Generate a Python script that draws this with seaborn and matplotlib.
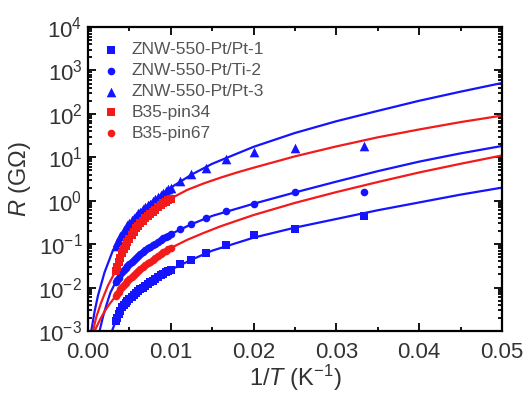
import numpy as np
import pandas as pd
import seaborn as sns
import matplotlib.pyplot as plt
from matplotlib.ticker import LogLocator, NullFormatter, MultipleLocator

# temperatures of the measured points (K); x axis is 1/T
temp_dense = [300, 285, 270, 255, 240, 230, 220, 210, 200, 190, 180, 172, 165,
              158, 151, 145, 139, 133, 128, 123, 118, 114, 110, 106, 103, 100]
temp_low = [90, 80, 70, 60, 50, 40, 30]

# measured R (GOhm)
r_pt1 = [0.0017, 0.0020, 0.0024, 0.0029, 0.0035, 0.0039, 0.0044, 0.0049, 0.0055,
         0.0062, 0.0069, 0.0076, 0.0083, 0.0091, 0.010, 0.011, 0.012, 0.0132,
         0.0145, 0.0158, 0.0174, 0.019, 0.0204, 0.0224, 0.024, 0.0257]
r_pt1_low = [0.034, 0.044, 0.063, 0.095, 0.160, 0.224, 0.437]

r_ti2 = [0.0132, 0.0151, 0.0170, 0.020, 0.0229, 0.0251, 0.0275, 0.0309, 0.0347,
         0.0389, 0.0437, 0.049, 0.0537, 0.0589, 0.066, 0.0724, 0.0794, 0.0871,
         0.0933, 0.102, 0.115, 0.123, 0.135, 0.148, 0.158, 0.170]
r_ti2_low = [0.219, 0.295, 0.398, 0.575, 0.85, 1.55, 1.62]

r_pt3 = [0.089, 0.11, 0.12, 0.15, 0.17, 0.21, 0.23, 0.27, 0.30, 0.36, 0.40, 0.44,
         0.51, 0.55, 0.64, 0.70, 0.79, 0.86, 0.99, 1.08, 1.25, 1.33, 1.50, 1.63,
         1.85, 2.0]
r_pt3_low = [2.82, 4.07, 5.75, 8.91, 13.2, 16.6, 18.6]

r_pin34 = [0.024, 0.030, 0.038, 0.049, 0.063, 0.076, 0.091, 0.11, 0.13, 0.16,
           0.195, 0.23, 0.26, 0.30, 0.35, 0.39, 0.44, 0.49, 0.55, 0.62, 0.71,
           0.78, 0.87, 0.95, 1.05, 1.12]
r_pin67 = [0.0063, 0.0071, 0.0079, 0.0091, 0.0105, 0.0115, 0.0129, 0.0141, 0.0155,
           0.0174, 0.0195, 0.0214, 0.024, 0.0263, 0.0295, 0.0324, 0.0363, 0.0398,
           0.0437, 0.049, 0.0537, 0.0589, 0.0646, 0.0708, 0.0759, 0.0813]

# fitted curves (x = 1/T, R in GOhm)
fit_pt1_x = [0.0029, 0.00333, 0.004, 0.005, 0.006, 0.007, 0.008, 0.009, 0.01,
             0.0125, 0.015, 0.02, 0.025, 0.03, 0.035, 0.04, 0.045, 0.05]
fit_pt1_r = [0.001, 0.00166, 0.00302, 0.0055, 0.00813, 0.0112, 0.0155, 0.020,
             0.0257, 0.0437, 0.0708, 0.141, 0.24, 0.38, 0.603, 0.912, 1.38, 2.0]

fit_ti2_x = [0.0014, 0.0018, 0.0022, 0.0027, 0.00333, 0.004, 0.005, 0.006, 0.007,
             0.008, 0.009, 0.01, 0.0125, 0.015, 0.02, 0.025, 0.03, 0.035, 0.04,
             0.045, 0.05]
fit_ti2_r = [0.001, 0.00209, 0.0038, 0.0076, 0.0132, 0.0209, 0.0347, 0.0525,
             0.0741, 0.10, 0.132, 0.170, 0.288, 0.447, 0.851, 1.55, 2.75, 4.79,
             7.94, 12.3, 18.2]

fit_pt3_x = [0.0004, 0.0008, 0.0012, 0.002, 0.003, 0.004, 0.005, 0.0065, 0.008,
             0.01, 0.0125, 0.015, 0.02, 0.025, 0.03, 0.035, 0.04, 0.045, 0.05]
fit_pt3_r = [0.001, 0.00282, 0.00646, 0.0224, 0.0708, 0.158, 0.302, 0.617, 1.05,
             2.0, 3.98, 7.08, 17.4, 36.3, 67.6, 117, 200, 324, 513]

fit_pin34_x = [0.0006, 0.001, 0.0016, 0.0024, 0.00333, 0.004, 0.005, 0.006, 0.007,
               0.008, 0.009, 0.01, 0.012, 0.014, 0.016, 0.018, 0.02, 0.025, 0.03,
               0.035, 0.04, 0.045, 0.05]
fit_pin34_r = [0.001, 0.00209, 0.00457, 0.011, 0.024, 0.0537, 0.132, 0.251, 0.407,
               0.589, 0.832, 1.12, 1.78, 2.51, 3.39, 4.47, 5.75, 10.5, 17.8, 28.8,
               43.7, 64.6, 91.2]

fit_pin67_x = [0.0008, 0.0015, 0.002, 0.0026, 0.00333, 0.004, 0.005, 0.006, 0.007,
               0.008, 0.009, 0.01, 0.012, 0.014, 0.016, 0.018, 0.02, 0.025, 0.03,
               0.035, 0.04, 0.045, 0.05]
fit_pin67_r = [0.001, 0.0019, 0.00282, 0.00417, 0.00631, 0.00955, 0.0155, 0.0234,
               0.0331, 0.0457, 0.0617, 0.0813, 0.126, 0.182, 0.257, 0.347, 0.468,
               0.891, 1.58, 2.69, 4.47, 7.08, 11.0]

blue = '#1414ff'
red = '#f21a1a'

plt.rcParams['font.family'] = ['Liberation Sans', 'DejaVu Sans']
plt.rcParams['mathtext.fontset'] = 'custom'
plt.rcParams['mathtext.rm'] = 'Liberation Sans'
plt.rcParams['mathtext.it'] = 'Liberation Sans:italic'

fig = plt.figure(figsize=(5.3, 4.0), dpi=100)
ax = fig.add_axes([0.166, 0.1725, 0.781, 0.76])

inv_dense = 1.0 / np.array(temp_dense)
inv_low = 1.0 / np.array(temp_low)

# fitted lines
for fx, fr, c in [(fit_pt1_x, fit_pt1_r, blue), (fit_ti2_x, fit_ti2_r, blue),
                  (fit_pt3_x, fit_pt3_r, blue), (fit_pin34_x, fit_pin34_r, red),
                  (fit_pin67_x, fit_pin67_r, red)]:
    sns.lineplot(x=fx, y=fr, color=c, lw=1.6, ax=ax, sort=False, legend=False)

series = [
    ('ZNW-550-Pt/Pt-1', np.r_[inv_dense, inv_low], r_pt1 + r_pt1_low, 's', blue, 34),
    ('ZNW-550-Pt/Ti-2', np.r_[inv_dense, inv_low], r_ti2 + r_ti2_low, 'o', blue, 30),
    ('ZNW-550-Pt/Pt-3', np.r_[inv_dense, inv_low], r_pt3 + r_pt3_low, '^', blue, 48),
    ('B35-pin34', inv_dense, r_pin34, 's', red, 34),
    ('B35-pin67', inv_dense, r_pin67, 'o', red, 30),
]
for name, xs, rs, m, c, s in series:
    df = pd.DataFrame({'x': xs, 'R': rs})
    sns.scatterplot(data=df, x='x', y='R', marker=m, color=c, s=s,
                    linewidth=0, ax=ax, label=name)

ax.set_yscale('log')
ax.set_xlim(0, 0.05)
ax.set_ylim(1e-3, 1e4)
ax.xaxis.set_major_locator(MultipleLocator(0.01))
ax.xaxis.set_minor_locator(MultipleLocator(0.005))
ax.xaxis.set_major_formatter(plt.FuncFormatter(lambda v, p: f'{v:.2f}'))
ax.yaxis.set_major_locator(LogLocator(base=10, numticks=20))
ax.yaxis.set_minor_locator(LogLocator(base=10, subs=np.arange(2, 10), numticks=20))
ax.yaxis.set_minor_formatter(NullFormatter())

ax.tick_params(which='both', direction='in', top=True, right=True, width=1.3,
               colors='black', labelcolor='#333333', labelsize=16)
ax.tick_params(axis='x', pad=8)
ax.tick_params(axis='y', pad=4)
ax.tick_params(which='major', length=6)
ax.tick_params(which='minor', length=3)
for sp in ax.spines.values():
    sp.set_linewidth(1.6)

ax.set_xlabel(r'1/$\mathit{T}$ (K$^{-1}$)', fontsize=17, color='#333333', labelpad=0)
ax.set_ylabel(r'$\mathit{R}$ (G$\Omega$)', fontsize=17, color='#333333', labelpad=4)

leg = ax.legend(loc='upper left', bbox_to_anchor=(0.0, 0.99), frameon=False,
                fontsize=12.5, labelspacing=0.33, handletextpad=0.6,
                borderaxespad=0.3, handlelength=1.2, labelcolor='#555555')

fig.savefig('out.png', dpi=100)
